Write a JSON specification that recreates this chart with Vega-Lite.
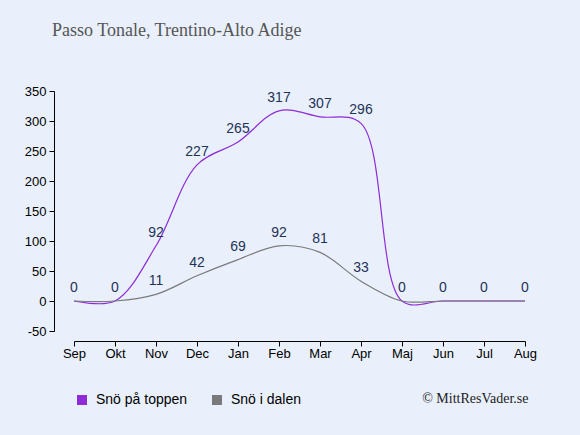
{
  "$schema": "https://vega.github.io/schema/vega-lite/v6.json",
  "width": 451,
  "height": 240,
  "autosize": {"type": "none"},
  "padding": {"left": 74, "top": 91, "right": 55, "bottom": 104},
  "background": "#e9f0fc",
  "title": {
    "text": "Passo Tonale, Trentino-Alto Adige",
    "anchor": "start",
    "frame": "group",
    "dx": -22,
    "offset": 31,
    "font": "Liberation Serif",
    "fontSize": 18,
    "fontWeight": "normal",
    "color": "#555555",
    "baseline": "alphabetic"
  },
  "config": {
    "view": {"stroke": null},
    "axis": {"labelFont": "Liberation Sans", "labelFontSize": 13, "labelColor": "#000000", "domainColor": "#000000", "tickColor": "#000000", "grid": false}
  },
  "data": {
    "values": [
      {"m": "Sep", "s": "Snö på toppen", "v": 0},
      {"m": "Okt", "s": "Snö på toppen", "v": 0},
      {"m": "Nov", "s": "Snö på toppen", "v": 92},
      {"m": "Dec", "s": "Snö på toppen", "v": 227},
      {"m": "Jan", "s": "Snö på toppen", "v": 265},
      {"m": "Feb", "s": "Snö på toppen", "v": 317},
      {"m": "Mar", "s": "Snö på toppen", "v": 307},
      {"m": "Apr", "s": "Snö på toppen", "v": 296},
      {"m": "Maj", "s": "Snö på toppen", "v": 0},
      {"m": "Jun", "s": "Snö på toppen", "v": 0},
      {"m": "Jul", "s": "Snö på toppen", "v": 0},
      {"m": "Aug", "s": "Snö på toppen", "v": 0},
      {"m": "Sep", "s": "Snö i dalen", "v": 0},
      {"m": "Okt", "s": "Snö i dalen", "v": 0},
      {"m": "Nov", "s": "Snö i dalen", "v": 11},
      {"m": "Dec", "s": "Snö i dalen", "v": 42},
      {"m": "Jan", "s": "Snö i dalen", "v": 69},
      {"m": "Feb", "s": "Snö i dalen", "v": 92},
      {"m": "Mar", "s": "Snö i dalen", "v": 81},
      {"m": "Apr", "s": "Snö i dalen", "v": 33},
      {"m": "Maj", "s": "Snö i dalen", "v": 0},
      {"m": "Jun", "s": "Snö i dalen", "v": 0},
      {"m": "Jul", "s": "Snö i dalen", "v": 0},
      {"m": "Aug", "s": "Snö i dalen", "v": 0}
    ]
  },
  "encoding": {
    "x": {
      "field": "m",
      "type": "ordinal",
      "sort": ["Sep", "Okt", "Nov", "Dec", "Jan", "Feb", "Mar", "Apr", "Maj", "Jun", "Jul", "Aug"],
      "scale": {"type": "point", "padding": 0},
      "axis": {
        "offset": 10,
        "labelAngle": 0,
        "labelPadding": 1,
        "tickSize": 5,
        "title": "© MittResVader.se",
        "titleFont": "Liberation Serif",
        "titleFontSize": 14,
        "titleFontWeight": "normal",
        "titleColor": "#222222",
        "titleX": 454,
        "titleY": 57,
        "titleAlign": "right",
        "titleBaseline": "middle"
      }
    },
    "y": {
      "field": "v",
      "type": "quantitative",
      "scale": {"domain": [-50, 350], "nice": false, "zero": false},
      "axis": {"offset": 20, "title": null, "values": [-50, 0, 50, 100, 150, 200, 250, 300, 350], "labelExpr": "'' + datum.value", "tickSize": 5, "labelPadding": 3}
    }
  },
  "layer": [
    {
      "mark": {"type": "line", "interpolate": "catmull-rom", "strokeWidth": 1.2},
      "encoding": {
        "color": {
          "field": "s",
          "type": "nominal",
          "scale": {"domain": ["Snö på toppen", "Snö i dalen"], "range": ["#8d2bd6", "#7a7a7a"]},
          "legend": {
            "title": null,
            "orient": "none",
            "legendX": 1,
            "legendY": 302,
            "direction": "horizontal",
            "symbolType": "square",
            "symbolSize": 100,
            "symbolStrokeWidth": 0,
            "labelFont": "Liberation Sans",
            "labelFontSize": 14,
            "labelColor": "#000000",
            "labelOffset": 7,
            "columnPadding": 22,
            "padding": 0,
            "encode": {"symbols": {"update": {"fill": {"scale": "color", "field": "value"}, "opacity": {"value": 1}}}}
          }
        }
      }
    },
    {
      "transform": [{"filter": "datum.s == 'Snö på toppen' || datum.v > 0"}],
      "mark": {"type": "text", "dy": -9, "baseline": "alphabetic", "font": "Liberation Sans", "fontSize": 14, "color": "#1f3357"},
      "encoding": {"text": {"field": "v", "type": "quantitative"}}
    }
  ]
}
